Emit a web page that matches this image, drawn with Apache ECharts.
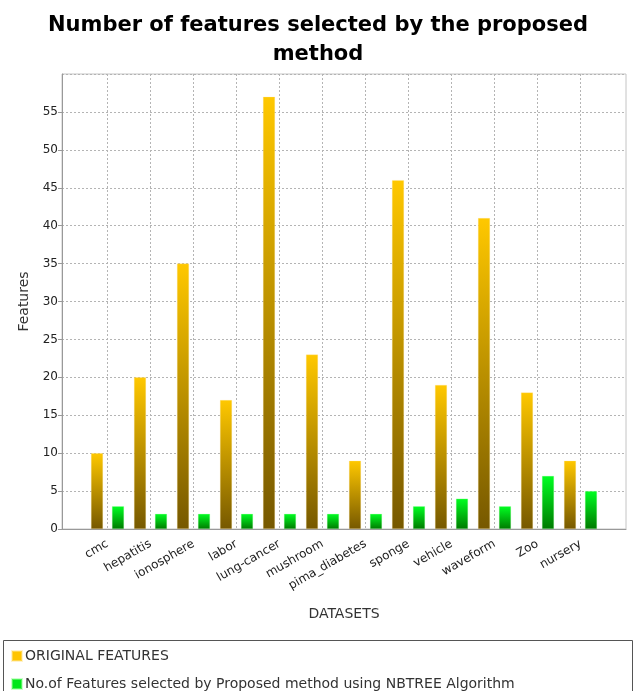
<!DOCTYPE html>
<html>
<head>
<meta charset="utf-8">
<script src="https://cdn.jsdelivr.net/npm/echarts@6/dist/echarts.min.js"></script>
<style>
  html, body { margin: 0; padding: 0; background: #fff; }
  #chart { width: 636px; height: 691px; }
</style>
</head>
<body>
<div id="chart"></div>
<script>
// Datasets and feature counts
const datasets = ['cmc', 'hepatitis', 'ionosphere', 'labor', 'lung-cancer', 'mushroom',
  'pima_diabetes', 'sponge', 'vehicle', 'waveform', 'Zoo', 'nursery'];
const originalFeatures = [10, 20, 35, 17, 57, 23, 9, 46, 19, 41, 18, 9];
const selectedFeatures = [3, 2, 2, 2, 2, 2, 2, 3, 4, 3, 7, 5];
const seriesNames = ['ORIGINAL FEATURES', 'No.of Features selected by Proposed method using NBTREE Algorithm'];
const legendColors = ['#ffc400', '#00e61a'];

const FONT = 'DejaVu Sans';
const chart = echarts.init(document.getElementById('chart'), null, { renderer: 'canvas' });

function vgrad(top, bottom) {
  return new echarts.graphic.LinearGradient(0, 0, 0, 1, [
    { offset: 0, color: top },
    { offset: 1, color: bottom }
  ]);
}

const dashed = { color: '#b4b4b4', type: [2, 2], width: 1 };

// one legend row per series, stacked inside the bordered box
const legends = seriesNames.map((name, i) => ({
  left: 6,
  top: 644 + i * 28,
  itemWidth: 10,
  itemHeight: 10,
  icon: 'rect',
  textStyle: { fontFamily: FONT, fontSize: 14, color: '#333', padding: [0, 0, 0, -2] },
  data: [{ name: name, itemStyle: { color: legendColors[i] } }]
}));

chart.setOption({
  animation: false,
  backgroundColor: '#ffffff',
  title: {
    text: 'Number of features selected by the proposed\nmethod',
    left: 'center',
    top: 6,
    textStyle: {
      fontFamily: FONT, fontWeight: 'bold', fontSize: 21, color: '#000',
      lineHeight: 29
    }
  },
  legend: legends,
  graphic: [{
    type: 'rect',
    silent: true,
    z: -1,
    shape: { x: 3.5, y: 640.5, width: 629, height: 60 },
    style: { fill: '#fff', stroke: '#555', lineWidth: 1 }
  }],
  grid: [
    // plot frame with horizontal gridlines
    { left: 62, right: 10, top: 74, bottom: 162, show: true, borderColor: '#c4c4c4', borderWidth: 1 },
    // category area, first and last category on the frame's inner gridlines
    { left: 107.5, right: 55.5, top: 74, bottom: 162 }
  ],
  xAxis: [
    {
      gridIndex: 0, type: 'value', min: 0, max: 1,
      axisLine: { show: true, lineStyle: { color: '#999' } },
      axisTick: { show: false }, axisLabel: { show: false }, splitLine: { show: false },
      name: 'DATASETS', nameLocation: 'middle', nameGap: 78,
      nameTextStyle: { fontFamily: FONT, fontSize: 14, color: '#333' }
    },
    {
      gridIndex: 1, type: 'category', data: datasets, boundaryGap: false,
      axisLine: { show: false }, axisTick: { show: false },
      splitLine: { show: true, lineStyle: dashed },
      axisLabel: {
        rotate: 30, margin: 14, interval: 0,
        fontFamily: FONT, fontSize: 12, color: '#222'
      }
    }
  ],
  yAxis: [
    {
      gridIndex: 0, type: 'value', min: 0, max: 60, interval: 5,
      axisLine: { show: true, lineStyle: { color: '#999' } },
      axisTick: { show: true, length: 4, lineStyle: { color: '#999' } },
      axisLabel: { showMaxLabel: false, margin: 4, fontFamily: FONT, fontSize: 12, color: '#222' },
      splitLine: { show: true, lineStyle: dashed },
      name: 'Features', nameLocation: 'middle', nameGap: 26,
      nameTextStyle: { fontFamily: FONT, fontSize: 14, color: '#333' }
    },
    {
      gridIndex: 1, type: 'value', min: 0, max: 60, interval: 5, show: false
    }
  ],
  series: [
    {
      name: seriesNames[0], type: 'bar', xAxisIndex: 1, yAxisIndex: 1,
      data: originalFeatures, barWidth: 12, barGap: '75%', clip: false,
      itemStyle: { color: vgrad('#ffc800', '#765800'), borderColor: 'rgba(255,230,150,0.5)', borderWidth: 0.5 }
    },
    {
      name: seriesNames[1], type: 'bar', xAxisIndex: 1, yAxisIndex: 1,
      data: selectedFeatures, barWidth: 12, barGap: '75%', clip: false,
      itemStyle: { color: vgrad('#00ff22', '#007a00'), borderColor: 'rgba(150,255,150,0.5)', borderWidth: 0.5 }
    }
  ]
});
</script>
</body>
</html>
